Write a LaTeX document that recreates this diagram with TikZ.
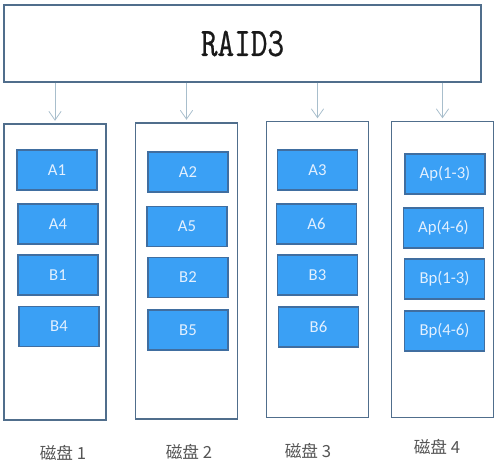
\documentclass[tikz,border=0pt]{standalone}
\usepackage{fontspec}
\setmainfont{Carlito}
\newfontfamily\cjk{Noto Sans CJK SC}
\newfontfamily\raidfont[FakeStretch=0.8,FakeBold=0.6]{Latin Modern Mono}
\usetikzlibrary{arrows.meta}
\definecolor{blockfill}{RGB}{58,160,245}
\definecolor{blockline}{RGB}{64,110,160}
\definecolor{blocktext}{RGB}{226,240,255}
\definecolor{diskline}{RGB}{80,110,140}
\definecolor{feedline}{RGB}{168,190,204}
\definecolor{labeltext}{RGB}{85,85,85}
\tikzset{
  raidbox/.style={draw=diskline, line width=0.7pt, minimum width=9.54cm,
    minimum height=1.54cm, inner sep=0pt,
    font=\raidfont\fontsize{23}{26}\selectfont, text=black!90},
  disk/.style={draw=diskline, line width=0.7pt, minimum width=2.04cm,
    minimum height=5.92cm, inner sep=0pt},
  block/.style={draw=blockline, fill=blockfill, text=blocktext,
    line width=0.6pt, minimum width=1.6cm, minimum height=0.8cm,
    inner sep=0pt, font=\fontsize{9.5}{11}\selectfont},
  feed/.style={draw=feedline, line width=0.45pt, shorten >=1.5pt,
    -{Straight Barb[length=5pt,width=7pt,line width=0.45pt]}},
  disklabel/.style={text=labeltext, font=\cjk\fontsize{9.5}{11}\selectfont}
}
\begin{document}
\begin{tikzpicture}[x=0.02cm, y=-0.02cm]
      \useasboundingbox (0,0) rectangle (498,467);
      \node[raidbox] (raid) at (242.5,43.5) {RAID3};
      \draw
        (55,272) node[disk] (d1){}
        (186.5,271) node[disk] (d2){}
        (317.5,269.5) node[disk] (d3){}
        (442.5,269.5) node[disk] (d4){};
      % disk 1
      \draw
        (57,170) node[block] (a1){A1}
        (58,224) node[block] (a4){A4}
        (58,275) node[block] (b1){B1}
        (59,326.5) node[block] (b4){B4};
      % disk 2
      \draw
        (188,172) node[block] (a2){A2}
        (187,226.5) node[block] (a5){A5}
        (188,277.5) node[block] (b2){B2}
        (188,330) node[block] (b5){B5};
      % disk 3
      \draw
        (317.5,170) node[block] (a3){A3}
        (316.5,224) node[block] (a6){A6}
        (317.5,275) node[block] (b3){B3}
        (318.5,327) node[block] (b6){B6};
      % disk 4 (parity)
      \draw
        (445,174) node[block] (ap13){Ap(1-3)}
        (443.5,228) node[block] (ap46){Ap(4-6)}
        (444.5,279) node[block] (bp13){Bp(1-3)}
        (444.5,331) node[block] (bp46){Bp(4-6)};
      \path
        (63,453) node[disklabel] (l1){磁盘 1}
        (189,452) node[disklabel] (l2){磁盘 2}
        (308,451) node[disklabel] (l3){磁盘 3}
        (437,447) node[disklabel] (l4){磁盘 4};
      \begin{scope}[feed]
        \draw (raid.south -| d1.north) to (d1.north);
        \draw (raid.south -| d2.north) to (d2.north);
        \draw (raid.south -| d3.north) to (d3.north);
        \draw (raid.south -| d4.north) to (d4.north);
      \end{scope}
    \end{tikzpicture}
\end{document}
